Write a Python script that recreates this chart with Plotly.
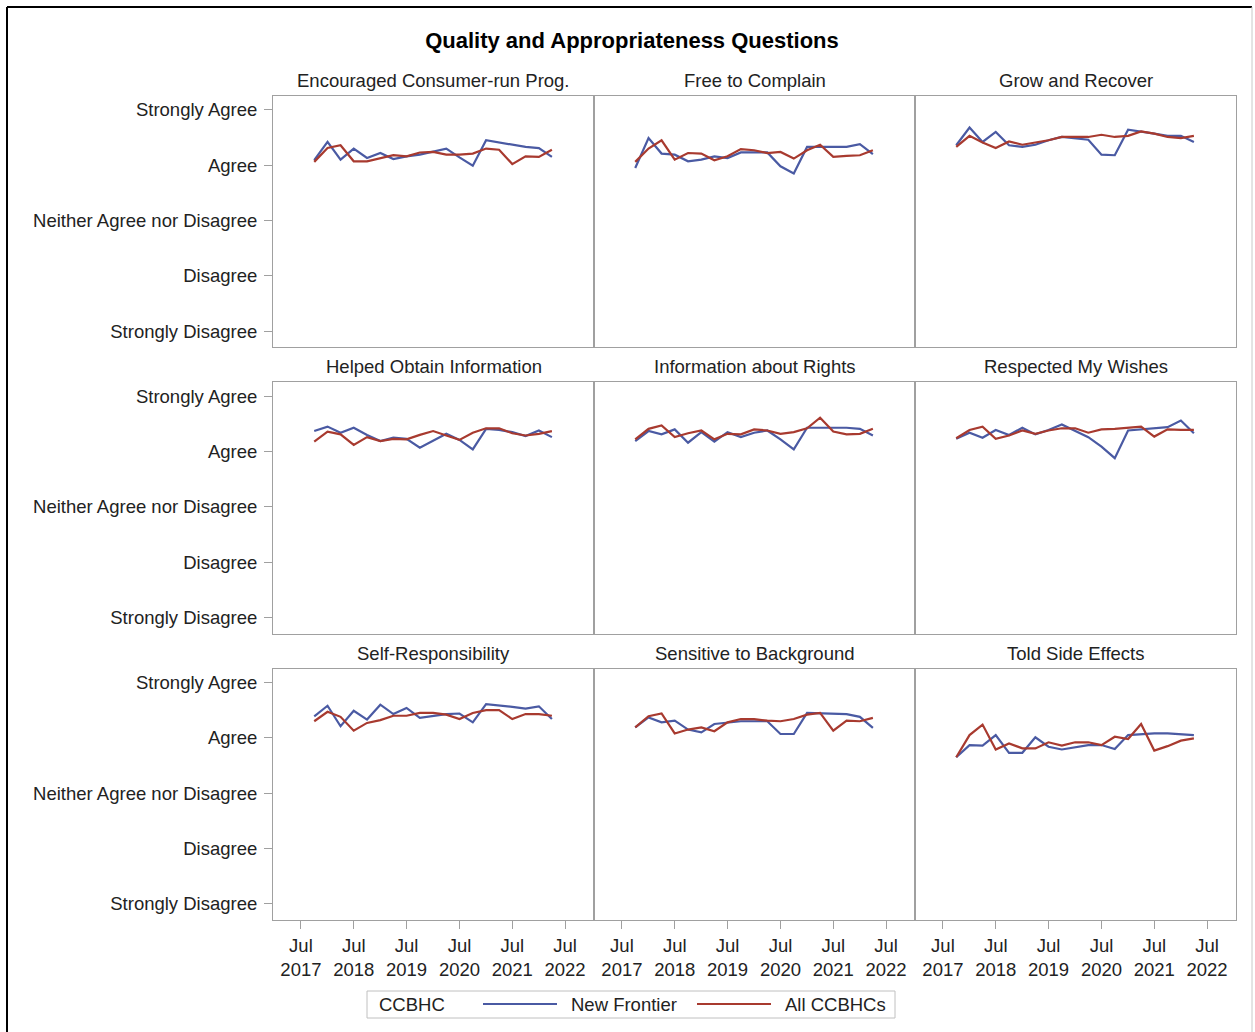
import plotly.graph_objects as go
from plotly.subplots import make_subplots

# quarterly survey periods
dates = [
    "2017-10-01", "2018-01-01", "2018-04-01", "2018-07-01", "2018-10-01",
    "2019-01-01", "2019-04-01", "2019-07-01", "2019-10-01", "2020-01-01",
    "2020-04-01", "2020-07-01", "2020-10-01", "2021-01-01", "2021-04-01",
    "2021-07-01", "2021-10-01", "2022-01-01", "2022-04-01",
]

questions = [
    "Encouraged Consumer-run Prog.", "Free to Complain", "Grow and Recover",
    "Helped Obtain Information", "Information about Rights", "Respected My Wishes",
    "Self-Responsibility", "Sensitive to Background", "Told Side Effects",
]

new_frontier = [
    [4.09, 4.42, 4.10, 4.30, 4.13, 4.22, 4.11, 4.16, 4.19, 4.24, 4.30, 4.14, 3.99, 4.45, 4.41, 4.37, 4.33, 4.31, 4.15],
    [3.95, 4.49, 4.21, 4.19, 4.07, 4.10, 4.16, 4.13, 4.23, 4.23, 4.23, 3.98, 3.85, 4.33, 4.33, 4.33, 4.33, 4.38, 4.20],
    [4.36, 4.68, 4.42, 4.60, 4.36, 4.33, 4.37, 4.45, 4.51, 4.49, 4.46, 4.19, 4.18, 4.64, 4.61, 4.57, 4.53, 4.53, 4.42],
    [4.37, 4.45, 4.34, 4.43, 4.30, 4.19, 4.25, 4.23, 4.07, 4.20, 4.32, 4.21, 4.04, 4.41, 4.39, 4.35, 4.28, 4.38, 4.26],
    [4.19, 4.37, 4.31, 4.40, 4.16, 4.35, 4.18, 4.35, 4.26, 4.34, 4.38, 4.22, 4.04, 4.43, 4.43, 4.43, 4.43, 4.41, 4.29],
    [4.23, 4.34, 4.25, 4.39, 4.30, 4.43, 4.31, 4.39, 4.49, 4.37, 4.26, 4.09, 3.88, 4.38, 4.40, 4.41, 4.44, 4.56, 4.33],
    [4.39, 4.58, 4.21, 4.49, 4.33, 4.60, 4.43, 4.54, 4.36, 4.39, 4.43, 4.44, 4.28, 4.61, 4.59, 4.56, 4.53, 4.57, 4.34],
    [4.19, 4.37, 4.28, 4.31, 4.15, 4.10, 4.25, 4.28, 4.30, 4.30, 4.30, 4.07, 4.07, 4.45, 4.44, 4.44, 4.43, 4.38, 4.18],
    [3.65, 3.87, 3.86, 4.05, 3.73, 3.73, 4.01, 3.84, 3.79, 3.83, 3.87, 3.87, 3.80, 4.05, 4.07, 4.08, 4.08, 4.07, 4.05],
]

all_ccbhcs = [
    [4.06, 4.31, 4.36, 4.07, 4.07, 4.12, 4.18, 4.16, 4.23, 4.24, 4.19, 4.19, 4.21, 4.30, 4.28, 4.02, 4.16, 4.15, 4.28],
    [4.06, 4.30, 4.45, 4.10, 4.22, 4.21, 4.09, 4.16, 4.29, 4.27, 4.22, 4.24, 4.12, 4.27, 4.37, 4.15, 4.17, 4.18, 4.27],
    [4.33, 4.53, 4.41, 4.31, 4.43, 4.37, 4.41, 4.45, 4.51, 4.51, 4.51, 4.55, 4.51, 4.53, 4.61, 4.57, 4.51, 4.49, 4.53],
    [4.18, 4.36, 4.31, 4.12, 4.26, 4.19, 4.23, 4.22, 4.30, 4.37, 4.29, 4.21, 4.34, 4.42, 4.42, 4.33, 4.29, 4.32, 4.37],
    [4.22, 4.41, 4.47, 4.26, 4.33, 4.38, 4.22, 4.32, 4.31, 4.40, 4.38, 4.32, 4.35, 4.42, 4.61, 4.36, 4.31, 4.32, 4.41],
    [4.24, 4.39, 4.45, 4.23, 4.29, 4.38, 4.32, 4.38, 4.42, 4.42, 4.34, 4.40, 4.41, 4.43, 4.45, 4.27, 4.40, 4.39, 4.39],
    [4.30, 4.47, 4.38, 4.13, 4.27, 4.32, 4.40, 4.40, 4.45, 4.45, 4.42, 4.34, 4.45, 4.50, 4.50, 4.34, 4.43, 4.43, 4.40],
    [4.19, 4.39, 4.44, 4.08, 4.15, 4.19, 4.12, 4.28, 4.34, 4.34, 4.31, 4.30, 4.34, 4.42, 4.45, 4.13, 4.31, 4.30, 4.36],
    [3.65, 4.05, 4.24, 3.79, 3.90, 3.81, 3.81, 3.92, 3.86, 3.92, 3.92, 3.87, 4.02, 3.98, 4.25, 3.77, 3.85, 3.95, 3.99],
]

scale_vals = [1, 2, 3, 4, 5]
scale_labels = ["Strongly Disagree", "Disagree", "Neither Agree nor Disagree", "Agree", "Strongly Agree"]
year_ticks = ["2017-07-01", "2018-07-01", "2019-07-01", "2020-07-01", "2021-07-01", "2022-07-01"]
year_labels = ["Jul<br>2017", "Jul<br>2018", "Jul<br>2019", "Jul<br>2020", "Jul<br>2021", "Jul<br>2022"]

C_NF = "#4a5aa3"
C_ALL = "#a83a2f"
GRID = "#a0a0a0"
TXT = "#222"
FONT = "Arial, Liberation Sans, sans-serif"
FS = 18.5

# pixel layout of the plot block
W, H = 1255, 1032
L, R, T, B = 273, 19, 96, 112
PW, PH = W - L - R, H - T - B

fig = make_subplots(
    rows=3, cols=3,
    shared_xaxes=True, shared_yaxes=True,
    horizontal_spacing=0, vertical_spacing=35 / PH,
    subplot_titles=questions,
)

for k, q in enumerate(questions):
    r, c = k // 3 + 1, k % 3 + 1
    fig.add_trace(go.Scatter(
        x=dates, y=new_frontier[k], mode="lines", name="New Frontier",
        line=dict(color=C_NF, width=2.2), showlegend=False,
    ), row=r, col=c)
    fig.add_trace(go.Scatter(
        x=dates, y=all_ccbhcs[k], mode="lines", name="All CCBHCs",
        line=dict(color=C_ALL, width=2.2), showlegend=False,
    ), row=r, col=c)

fig.update_xaxes(
    range=["2016-12-20", "2023-01-17"], tickmode="array",
    tickvals=year_ticks, ticktext=year_labels,
    showline=True, linecolor=GRID, linewidth=1, mirror=True,
    showgrid=False, zeroline=False,
    ticks="", tickfont=dict(size=FS, color=TXT, family=FONT),
)
fig.update_xaxes(ticks="outside", ticklen=8, tickcolor=GRID, ticklabelstandoff=1, row=3)
fig.update_yaxes(
    range=[0.71, 5.25], tickmode="array",
    tickvals=scale_vals, ticktext=scale_labels,
    showline=True, linecolor=GRID, linewidth=1, mirror=True,
    showgrid=False, zeroline=False,
    ticks="", tickfont=dict(size=FS, color=TXT, family=FONT),
)
fig.update_yaxes(ticks="outside", ticklen=8, tickcolor=GRID, ticklabelstandoff=3, col=1)

for ann in fig.layout.annotations:
    ann.font = dict(size=FS, color=TXT, family=FONT)
    ann.yshift = 3


def px(x):
    return (x - L) / PW


def py(y):
    return (H - B - y) / PH


# outer frame of the exported image
fig.add_shape(type="line", xref="paper", yref="paper", x0=px(7), x1=px(7), y0=py(7), y1=py(H + 5),
              line=dict(color="black", width=2))
fig.add_shape(type="line", xref="paper", yref="paper", x0=px(7), x1=px(1252), y0=py(7), y1=py(7),
              line=dict(color="black", width=2))
fig.add_shape(type="line", xref="paper", yref="paper", x0=px(1252), x1=px(1252), y0=py(7), y1=py(H + 5),
              line=dict(color="#c8c8c8", width=1))

# legend box: frame, title, line samples and labels
fig.add_shape(type="rect", xref="paper", yref="paper", x0=px(367), x1=px(895), y0=py(991), y1=py(1018),
              line=dict(color="#c0c0c0", width=1), fillcolor="rgba(0,0,0,0)")
legend_entries = [("New Frontier", C_NF, 483), ("All CCBHCs", C_ALL, 697)]
fig.add_annotation(text="CCBHC", xref="paper", yref="paper", x=px(377), y=py(1004),
                   xanchor="left", yanchor="middle", showarrow=False,
                   font=dict(size=FS, color=TXT, family=FONT))
for name, color, x0 in legend_entries:
    fig.add_shape(type="line", xref="paper", yref="paper", x0=px(x0), x1=px(x0 + 74),
                  y0=py(1004), y1=py(1004), line=dict(color=color, width=2.2))
    fig.add_annotation(text=name, xref="paper", yref="paper", x=px(x0 + 86), y=py(1004),
                       xanchor="left", yanchor="middle", showarrow=False,
                       font=dict(size=FS, color=TXT, family=FONT))

fig.update_layout(
    width=W, height=H,
    margin=dict(l=L, r=R, t=T, b=B),
    paper_bgcolor="white", plot_bgcolor="white",
    font=dict(family=FONT, color=TXT),
    showlegend=False,
    title=dict(text="<b>Quality and Appropriateness Questions</b>", x=632 / W, xanchor="center",
               y=1 - 40 / H, yanchor="middle", font=dict(size=22, color="black", family=FONT)),
)

fig.write_html("out.html", config={"displayModeBar": False},
               post_script="document.body.style.margin='0';")
